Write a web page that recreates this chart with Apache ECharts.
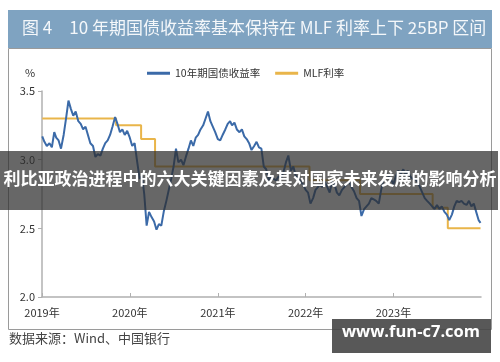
<!DOCTYPE html>
<html><head><meta charset="utf-8">
<script src="https://cdn.jsdelivr.net/npm/echarts@6/dist/echarts.min.js"></script>
<style>html,body{margin:0;padding:0;background:#fff}#c{width:500px;height:362px}</style>
</head><body><div id="c"></div>
<script>
var titleText = '图 4\u2002\u200210 年期国债收益率基本保持在 MLF 利率上下 25BP 区间';
var sourceText = '数据来源：Wind、中国银行';
var seriesNames = ['10年期国债收益率', 'MLF利率'];
var yTicks = [2.0, 2.5, 3.0, 3.5];

var yieldDates = [
'2019-01-02','2019-01-11','2019-01-21','2019-02-01','2019-02-11','2019-02-21','2019-03-01','2019-03-11','2019-03-21',
'2019-04-01','2019-04-11','2019-04-21','2019-05-01','2019-05-11','2019-05-21','2019-06-01','2019-06-11','2019-06-21',
'2019-07-01','2019-07-11','2019-07-21','2019-08-01','2019-08-11','2019-08-21','2019-09-01','2019-09-11','2019-09-21',
'2019-10-01','2019-10-11','2019-10-21','2019-11-01','2019-11-11','2019-11-21','2019-12-01','2019-12-11','2019-12-21',
'2020-01-01','2020-01-11','2020-01-21','2020-02-01','2020-02-11','2020-02-21','2020-03-01','2020-03-11','2020-03-21',
'2020-04-01','2020-04-11','2020-04-21','2020-05-01','2020-05-11','2020-05-21','2020-06-01','2020-06-11','2020-06-21',
'2020-07-01','2020-07-11','2020-07-21','2020-08-01','2020-08-11','2020-08-21','2020-09-01','2020-09-11','2020-09-21',
'2020-10-01','2020-10-11','2020-10-21','2020-11-01','2020-11-11','2020-11-21','2020-12-01','2020-12-11','2020-12-21',
'2021-01-01','2021-01-11','2021-01-21','2021-02-01','2021-02-11','2021-02-21','2021-03-01','2021-03-11','2021-03-21',
'2021-04-01','2021-04-11','2021-04-21','2021-05-01','2021-05-11','2021-05-21','2021-06-01','2021-06-11','2021-06-21',
'2021-07-01','2021-07-11','2021-07-21','2021-08-01','2021-08-11','2021-08-21','2021-09-01','2021-09-11','2021-09-21',
'2021-10-01','2021-10-11','2021-10-21','2021-11-01','2021-11-11','2021-11-21','2021-12-01','2021-12-11','2021-12-21',
'2022-01-01','2022-01-11','2022-01-21','2022-02-01','2022-02-11','2022-02-21','2022-03-01','2022-03-11','2022-03-21',
'2022-04-01','2022-04-11','2022-04-21','2022-05-01','2022-05-11','2022-05-21','2022-06-01','2022-06-11','2022-06-21',
'2022-07-01','2022-07-11','2022-07-21','2022-08-01','2022-08-11','2022-08-21','2022-09-01','2022-09-11','2022-09-21',
'2022-10-01','2022-10-11','2022-10-21','2022-11-01','2022-11-11','2022-11-21','2022-12-01','2022-12-11','2022-12-21',
'2023-01-01','2023-01-11','2023-01-21','2023-02-01','2023-02-11','2023-02-21','2023-03-01','2023-03-11','2023-03-21',
'2023-04-01','2023-04-11','2023-04-21','2023-05-01','2023-05-11','2023-05-21','2023-06-01','2023-06-11','2023-06-21',
'2023-07-01','2023-07-11','2023-07-21','2023-08-01','2023-08-11','2023-08-21','2023-09-01','2023-09-11','2023-09-21',
'2023-10-01','2023-10-11','2023-10-21','2023-11-01','2023-11-11','2023-11-21','2023-12-01','2023-12-11','2023-12-21','2023-12-29'
];
var yieldValues = [
3.17,3.13,3.10, 3.12,3.09,3.20, 3.16,3.14,3.08,
3.18,3.30,3.43, 3.37,3.32,3.35, 3.28,3.26,3.22,
3.24,3.18,3.12, 3.10,3.02,3.04, 3.03,3.08,3.12,
3.14,3.18,3.24, 3.31,3.26,3.20, 3.22,3.18,3.21,
3.16,3.10,3.12, 2.98,2.86,2.88, 2.75,2.52,2.62,
2.58,2.55,2.49, 2.53,2.52,2.62, 2.70,2.78,2.86,
2.95,3.08,2.98, 3.00,2.96,3.02, 3.08,3.14,3.10,
3.16,3.18,3.22, 3.25,3.30,3.35, 3.28,3.24,3.20,
3.15,3.14,3.18, 3.22,3.26,3.28, 3.25,3.27,3.22,
3.20,3.22,3.17, 3.15,3.12,3.07, 3.10,3.13,3.09,
3.08,2.95,2.93, 2.85,2.88,2.86, 2.85,2.88,2.87,
2.91,2.98,3.03, 2.92,2.95,2.88, 2.87,2.84,2.82,
2.78,2.76,2.68, 2.72,2.78,2.80, 2.82,2.80,2.84,
2.80,2.76,2.84, 2.82,2.76,2.74, 2.78,2.80,2.82,
2.84,2.80,2.77, 2.72,2.70,2.59, 2.64,2.66,2.68,
2.72,2.71,2.70, 2.68,2.78,2.86, 2.90,2.88,2.86,
2.82,2.88,2.92, 2.90,2.93,2.89, 2.92,2.88,2.86,
2.86,2.84,2.80, 2.76,2.72,2.70, 2.68,2.66,2.64,
2.67,2.64,2.66, 2.62,2.60,2.56, 2.60,2.66,2.70,
2.69,2.70,2.68, 2.67,2.70,2.66, 2.68,2.62,2.56,2.54
];
var mlfDates = ['2019-01-02','2019-11-05','2020-02-17','2020-04-15','2022-01-17','2022-08-15','2023-06-13','2023-08-15','2023-12-29'];
var mlfValues = [3.30, 3.25, 3.15, 2.95, 2.85, 2.75, 2.65, 2.50, 2.50];

function pairs(d, v){ return d.map(function(x,i){ return [x, v[i]]; }); }

var chart = echarts.init(document.getElementById('c'), null, {renderer:'canvas'});
var DAY = 86400000;
chart.setOption({
  animation: false,
  backgroundColor: '#fff',
  textStyle: {fontFamily: 'Noto Sans CJK SC, sans-serif'},
  grid: {left: 42, right: 19, top: 91, bottom: 65},
  legend: {
    left: 142, top: 63, itemGap: 15, itemWidth: 23, itemHeight: 3, icon: 'rect',
    textStyle: {fontSize: 10.5, color: '#333', fontFamily: 'Noto Sans CJK SC'},
    data: seriesNames
  },
  xAxis: {
    type: 'time',
    min: '2019-01-01', max: '2023-12-31',
    minInterval: 365*DAY, maxInterval: 366*DAY,
    axisLine: {lineStyle: {color: '#b0b0b0', width: 1.5}},
    axisTick: {inside: true, length: 4, lineStyle: {color: '#b0b0b0'}},
    axisLabel: {formatter: '{yyyy}年', color: '#333', fontSize: 11, margin: 10, fontFamily: 'Noto Sans CJK SC', hideOverlap: false},
    splitLine: {show: false}
  },
  yAxis: {
    type: 'value', min: yTicks[0], max: yTicks[yTicks.length-1], interval: 0.5,
    axisLine: {show: true, lineStyle: {color: '#b0b0b0', width: 1.5}},
    axisTick: {show: true, length: 4, lineStyle: {color: '#b0b0b0'}},
    axisLabel: {formatter: function(v){ return v.toFixed(1); }, color: '#333', fontSize: 11, margin: 7},
    splitLine: {show: false}
  },
  graphic: [
    {type: 'rect', left: 8, top: 48, z: -1, shape: {width: 483, height: 281}, style: {fill: '#fff', stroke: '#9a9a9a', lineWidth: 1}},
    {type: 'rect', left: 8, top: 10, shape: {width: 484, height: 38}, style: {fill: '#7fa3c1'}},
    {type: 'text', left: 22, top: 19, style: {text: titleText, fill: '#f4f7fa', font: '17px "Noto Sans CJK SC"'}},
    {type: 'text', left: 25, top: 67, style: {text: '%', fill: '#333', font: '11px "Noto Sans CJK SC"'}},
    {type: 'text', left: 9, top: 332, style: {text: sourceText, fill: '#444', font: '13px "Noto Sans CJK SC"'}},
    {type: 'rect', left: 0, top: 151, z: 100, shape: {width: 498, height: 59}, style: {fill: 'rgba(45,45,45,0.72)'}},
    {type: 'text', left: 'center', top: 170, z: 101, style: {text: '利比亚政治进程中的六大关键因素及其对国家未来发展的影响分析', fill: '#fff', font: 'bold 17px "Noto Sans CJK SC"'}},
    {type: 'rect', left: 332, top: 319, z: 100, shape: {width: 159, height: 34}, style: {fill: 'rgba(70,70,70,0.9)'}},
    {type: 'text', left: 342, top: 324, z: 101, style: {text: 'www.fun-c7.com', fill: '#fff', font: 'bold 16.5px "Open Sans"'}}
  ],
  series: [
    {name: seriesNames[0], type: 'line', data: pairs(yieldDates, yieldValues), showSymbol: false, symbol: 'none',
     lineStyle: {color: '#3b6aa8', width: 2}, itemStyle: {color: '#3b6aa8'}, z: 3},
    {name: seriesNames[1], type: 'line', step: 'end', data: pairs(mlfDates, mlfValues), showSymbol: false, symbol: 'none',
     lineStyle: {color: '#e9b54a', width: 2}, itemStyle: {color: '#e9b54a'}, z: 2}
  ]
});
</script></body></html>
